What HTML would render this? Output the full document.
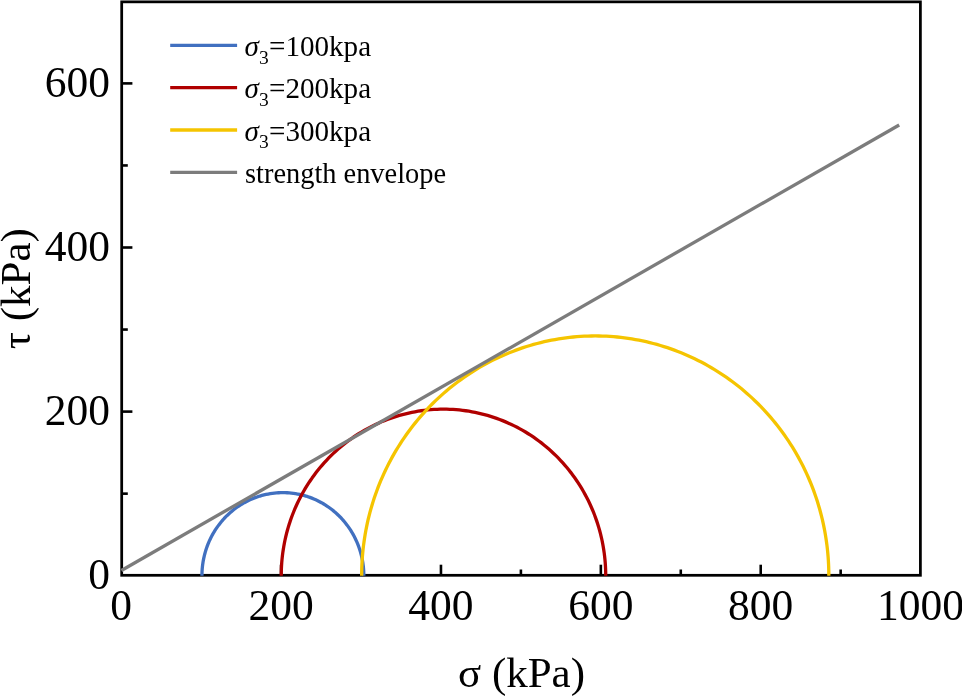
<!DOCTYPE html>
<html><head><meta charset="utf-8"><style>
html,body{margin:0;padding:0;background:#fff;overflow:hidden;}
svg{display:block;}
svg{will-change:transform;}
.t{font-family:"Liberation Serif",serif;font-size:43.5px;fill:#000;}
.a{font-family:"Liberation Serif",serif;font-size:43px;fill:#000;}
.l{font-family:"Liberation Serif",serif;fill:#000;}
</style></head><body>
<svg width="962" height="697" viewBox="0 0 962 697">

<rect x="121.7" y="1.85" width="798.7" height="573.45" fill="none" stroke="#000" stroke-width="2.75"/>
<line x1="281.08" y1="575" x2="281.08" y2="564.7" stroke="#000" stroke-width="2.6"/>
<line x1="440.96" y1="575" x2="440.96" y2="564.7" stroke="#000" stroke-width="2.6"/>
<line x1="520.90" y1="575" x2="520.90" y2="569.5" stroke="#000" stroke-width="2.6"/>
<line x1="600.84" y1="575" x2="600.84" y2="564.7" stroke="#000" stroke-width="2.6"/>
<line x1="680.78" y1="575" x2="680.78" y2="569.5" stroke="#000" stroke-width="2.6"/>
<line x1="760.72" y1="575" x2="760.72" y2="564.7" stroke="#000" stroke-width="2.6"/>
<line x1="840.66" y1="575" x2="840.66" y2="569.5" stroke="#000" stroke-width="2.6"/>
<line x1="122" y1="493.65" x2="127.8" y2="493.65" stroke="#000" stroke-width="2.6"/>
<line x1="122" y1="411.60" x2="132.4" y2="411.60" stroke="#000" stroke-width="2.6"/>
<line x1="122" y1="329.55" x2="127.8" y2="329.55" stroke="#000" stroke-width="2.6"/>
<line x1="122" y1="247.50" x2="132.4" y2="247.50" stroke="#000" stroke-width="2.6"/>
<line x1="122" y1="165.45" x2="127.8" y2="165.45" stroke="#000" stroke-width="2.6"/>
<line x1="122" y1="83.40" x2="132.4" y2="83.40" stroke="#000" stroke-width="2.6"/>
<path d="M201.94,575.70 L201.97,573.53 L202.05,571.35 L202.19,569.18 L202.38,567.02 L202.63,564.86 L202.94,562.70 L203.29,560.56 L203.71,558.43 L204.18,556.31 L204.70,554.20 L205.27,552.11 L205.90,550.03 L206.58,547.97 L207.32,545.93 L208.10,543.91 L208.94,541.91 L209.82,539.94 L210.76,537.98 L211.75,536.06 L212.78,534.16 L213.87,532.29 L215.00,530.45 L216.17,528.65 L217.40,526.87 L218.67,525.13 L219.98,523.42 L221.33,521.75 L222.73,520.11 L224.17,518.51 L225.65,516.96 L227.16,515.44 L228.72,513.96 L230.31,512.53 L231.94,511.14 L233.61,509.79 L235.30,508.49 L237.03,507.24 L238.80,506.03 L240.59,504.87 L242.41,503.75 L244.26,502.69 L246.13,501.68 L248.03,500.72 L249.96,499.81 L251.90,498.95 L253.87,498.14 L255.86,497.39 L257.87,496.69 L259.89,496.05 L261.93,495.46 L263.98,494.92 L266.05,494.44 L268.13,494.02 L270.22,493.65 L272.31,493.34 L274.42,493.08 L276.53,492.88 L278.64,492.74 L280.76,492.65 L282.88,492.62 L285.00,492.65 L287.11,492.74 L289.23,492.88 L291.34,493.08 L293.44,493.34 L295.54,493.65 L297.63,494.02 L299.71,494.44 L301.77,494.92 L303.83,495.46 L305.87,496.05 L307.89,496.69 L309.90,497.39 L311.88,498.14 L313.85,498.95 L315.80,499.81 L317.72,500.72 L319.62,501.68 L321.50,502.69 L323.35,503.75 L325.17,504.87 L326.96,506.03 L328.72,507.24 L330.45,508.49 L332.15,509.79 L333.82,511.14 L335.44,512.53 L337.04,513.96 L338.59,515.44 L340.11,516.96 L341.59,518.51 L343.03,520.11 L344.43,521.75 L345.78,523.42 L347.09,525.13 L348.36,526.87 L349.58,528.65 L350.76,530.45 L351.89,532.29 L352.97,534.16 L354.01,536.06 L355.00,537.98 L355.93,539.94 L356.82,541.91 L357.66,543.91 L358.44,545.93 L359.18,547.97 L359.86,550.03 L360.48,552.11 L361.06,554.20 L361.58,556.31 L362.05,558.43 L362.46,560.56 L362.82,562.70 L363.13,564.86 L363.37,567.02 L363.57,569.18 L363.71,571.35 L363.79,573.53 L363.82,575.70" fill="none" stroke="#4170C0" stroke-width="3.3" stroke-linejoin="round"/>
<path d="M281.24,575.70 L281.27,572.43 L281.36,569.16 L281.52,565.90 L281.74,562.63 L282.02,559.38 L282.36,556.13 L282.77,552.88 L283.24,549.65 L283.77,546.43 L284.36,543.21 L285.01,540.01 L285.72,536.83 L286.50,533.65 L287.33,530.50 L288.23,527.36 L289.18,524.24 L290.19,521.14 L291.27,518.06 L292.40,515.01 L293.59,511.98 L294.84,508.97 L296.14,505.98 L297.50,503.03 L298.92,500.10 L300.40,497.20 L301.93,494.33 L303.51,491.50 L305.15,488.69 L306.84,485.92 L308.58,483.19 L310.38,480.49 L312.22,477.82 L314.12,475.20 L316.07,472.61 L318.07,470.06 L320.11,467.55 L322.20,465.09 L324.34,462.67 L326.53,460.29 L328.76,457.95 L331.03,455.66 L333.35,453.42 L335.71,451.22 L338.11,449.08 L340.56,446.98 L343.04,444.93 L345.56,442.93 L348.12,440.98 L350.71,439.09 L353.34,437.24 L356.01,435.45 L358.71,433.72 L361.44,432.04 L364.21,430.41 L367.00,428.84 L369.82,427.33 L372.68,425.87 L375.56,424.48 L378.46,423.14 L381.39,421.86 L384.35,420.63 L387.32,419.47 L390.32,418.37 L393.34,417.33 L396.38,416.35 L399.44,415.43 L402.51,414.57 L405.60,413.78 L408.71,413.05 L411.83,412.38 L414.96,411.77 L418.10,411.23 L421.25,410.75 L424.41,410.33 L427.58,409.98 L430.75,409.69 L433.93,409.47 L437.11,409.31 L440.29,409.21 L443.48,409.18 L446.66,409.21 L449.85,409.31 L453.03,409.47 L456.21,409.69 L459.38,409.98 L462.55,410.33 L465.71,410.75 L468.86,411.23 L472.00,411.77 L475.13,412.38 L478.25,413.05 L481.35,413.78 L484.44,414.57 L487.52,415.43 L490.57,416.35 L493.61,417.33 L496.63,418.37 L499.63,419.47 L502.61,420.63 L505.56,421.86 L508.49,423.14 L511.40,424.48 L514.28,425.87 L517.13,427.33 L519.96,428.84 L522.75,430.41 L525.52,432.04 L528.25,433.72 L530.95,435.45 L533.61,437.24 L536.24,439.09 L538.84,440.98 L541.40,442.93 L543.92,444.93 L546.40,446.98 L548.84,449.08 L551.25,451.22 L553.61,453.42 L555.92,455.66 L558.20,457.95 L560.43,460.29 L562.61,462.67 L564.75,465.09 L566.85,467.55 L568.89,470.06 L570.89,472.61 L572.83,475.20 L574.73,477.82 L576.58,480.49 L578.37,483.19 L580.12,485.92 L581.81,488.69 L583.45,491.50 L585.03,494.33 L586.56,497.20 L588.03,500.10 L589.45,503.03 L590.81,505.98 L592.12,508.97 L593.37,511.98 L594.56,515.01 L595.69,518.06 L596.76,521.14 L597.78,524.24 L598.73,527.36 L599.63,530.50 L600.46,533.65 L601.23,536.83 L601.95,540.01 L602.60,543.21 L603.19,546.43 L603.72,549.65 L604.19,552.88 L604.59,556.13 L604.94,559.38 L605.22,562.63 L605.43,565.90 L605.59,569.16 L605.69,572.43 L605.72,575.70" fill="none" stroke="#B00000" stroke-width="3.3" stroke-linejoin="round"/>
<path d="M361.66,575.70 L361.69,571.93 L361.77,568.17 L361.92,564.41 L362.12,560.65 L362.38,556.89 L362.70,553.14 L363.07,549.39 L363.50,545.65 L363.99,541.92 L364.54,538.19 L365.14,534.48 L365.80,530.78 L366.51,527.08 L367.28,523.40 L368.11,519.73 L369.00,516.08 L369.94,512.44 L370.93,508.81 L371.99,505.20 L373.09,501.61 L374.25,498.04 L375.47,494.49 L376.74,490.95 L378.06,487.44 L379.44,483.95 L380.87,480.48 L382.35,477.04 L383.89,473.62 L385.48,470.22 L387.12,466.86 L388.81,463.51 L390.55,460.20 L392.35,456.91 L394.19,453.66 L396.08,450.43 L398.02,447.24 L400.01,444.07 L402.05,440.94 L404.14,437.84 L406.27,434.78 L408.45,431.75 L410.68,428.76 L412.95,425.80 L415.26,422.88 L417.63,419.99 L420.03,417.15 L422.48,414.35 L424.97,411.58 L427.50,408.85 L430.07,406.17 L432.69,403.53 L435.34,400.93 L438.04,398.37 L440.77,395.86 L443.54,393.39 L446.35,390.97 L449.20,388.59 L452.08,386.26 L455.00,383.98 L457.95,381.74 L460.93,379.55 L463.95,377.41 L467.00,375.32 L470.08,373.27 L473.20,371.28 L476.34,369.34 L479.51,367.45 L482.71,365.61 L485.94,363.82 L489.20,362.08 L492.48,360.40 L495.79,358.77 L499.12,357.19 L502.48,355.67 L505.86,354.20 L509.26,352.79 L512.68,351.43 L516.12,350.12 L519.58,348.88 L523.06,347.68 L526.56,346.55 L530.08,345.47 L533.61,344.45 L537.15,343.48 L540.71,342.57 L544.29,341.72 L547.88,340.93 L551.47,340.20 L555.08,339.52 L558.70,338.90 L562.33,338.34 L565.97,337.84 L569.61,337.40 L573.26,337.01 L576.92,336.69 L580.58,336.42 L584.24,336.22 L587.91,336.07 L591.58,335.98 L595.24,335.95 L598.91,335.98 L602.58,336.07 L606.25,336.22 L609.91,336.42 L613.57,336.69 L617.23,337.01 L620.88,337.40 L624.52,337.84 L628.16,338.34 L631.78,338.90 L635.40,339.52 L639.01,340.20 L642.61,340.93 L646.20,341.72 L649.77,342.57 L653.33,343.48 L656.88,344.45 L660.41,345.47 L663.93,346.55 L667.43,347.68 L670.91,348.88 L674.37,350.12 L677.81,351.43 L681.23,352.79 L684.63,354.20 L688.01,355.67 L691.37,357.19 L694.70,358.77 L698.01,360.40 L701.29,362.08 L704.55,363.82 L707.77,365.61 L710.98,367.45 L714.15,369.34 L717.29,371.28 L720.41,373.27 L723.49,375.32 L726.54,377.41 L729.56,379.55 L732.54,381.74 L735.49,383.98 L738.41,386.26 L741.29,388.59 L744.14,390.97 L746.95,393.39 L749.72,395.86 L752.45,398.37 L755.14,400.93 L757.80,403.53 L760.41,406.17 L762.99,408.85 L765.52,411.58 L768.01,414.35 L770.46,417.15 L772.86,419.99 L775.22,422.88 L777.54,425.80 L779.81,428.76 L782.04,431.75 L784.22,434.78 L786.35,437.84 L788.44,440.94 L790.48,444.07 L792.47,447.24 L794.41,450.43 L796.30,453.66 L798.14,456.91 L799.94,460.20 L801.68,463.51 L803.37,466.86 L805.01,470.22 L806.60,473.62 L808.13,477.04 L809.62,480.48 L811.05,483.95 L812.43,487.44 L813.75,490.95 L815.02,494.49 L816.24,498.04 L817.40,501.61 L818.50,505.20 L819.55,508.81 L820.55,512.44 L821.49,516.08 L822.37,519.73 L823.20,523.40 L823.98,527.08 L824.69,530.78 L825.35,534.48 L825.95,538.19 L826.50,541.92 L826.99,545.65 L827.42,549.39 L827.79,553.14 L828.11,556.89 L828.37,560.65 L828.57,564.41 L828.71,568.17 L828.80,571.93 L828.83,575.70" fill="none" stroke="#F5C400" stroke-width="3.3" stroke-linejoin="round"/>
<line x1="121.4" y1="570.45" x2="899.2" y2="125.0" stroke="#7C7C7C" stroke-width="3.3"/>
<text x="121.20" y="620.2" text-anchor="middle" class="t">0</text>
<text x="281.08" y="620.2" text-anchor="middle" class="t">200</text>
<text x="440.96" y="620.2" text-anchor="middle" class="t">400</text>
<text x="600.84" y="620.2" text-anchor="middle" class="t">600</text>
<text x="760.72" y="620.2" text-anchor="middle" class="t">800</text>
<text x="920.60" y="620.2" text-anchor="middle" class="t">1000</text>
<text x="110" y="589.30" text-anchor="end" class="t">0</text>
<text x="110" y="425.20" text-anchor="end" class="t">200</text>
<text x="110" y="261.10" text-anchor="end" class="t">400</text>
<text x="110" y="97.00" text-anchor="end" class="t">600</text>
<text x="521.5" y="687.4" text-anchor="middle" class="a">σ (kPa)</text>
<text transform="translate(30,288.7) rotate(-90)" text-anchor="middle" class="a">τ (kPa)</text>
<line x1="170.2" y1="45.4" x2="237.1" y2="45.4" stroke="#4170C0" stroke-width="3.3"/>
<text x="244.6" y="56.0" class="l" font-size="29.1"><tspan font-style="italic">σ</tspan><tspan font-size="19.5" dy="7.5">3</tspan><tspan dy="-7.5" dx="0.3">=100kpa</tspan></text>
<line x1="170.2" y1="87.7" x2="237.1" y2="87.7" stroke="#B00000" stroke-width="3.3"/>
<text x="244.6" y="98.3" class="l" font-size="29.1"><tspan font-style="italic">σ</tspan><tspan font-size="19.5" dy="7.5">3</tspan><tspan dy="-7.5" dx="0.3">=200kpa</tspan></text>
<line x1="170.2" y1="130.0" x2="237.1" y2="130.0" stroke="#F5C400" stroke-width="3.3"/>
<text x="244.6" y="140.6" class="l" font-size="29.1"><tspan font-style="italic">σ</tspan><tspan font-size="19.5" dy="7.5">3</tspan><tspan dy="-7.5" dx="0.3">=300kpa</tspan></text>
<line x1="170.2" y1="172.4" x2="237.1" y2="172.4" stroke="#7C7C7C" stroke-width="3.3"/>
<text x="245" y="183.4" class="l" font-size="28.4">strength envelope</text>
</svg></body></html>
